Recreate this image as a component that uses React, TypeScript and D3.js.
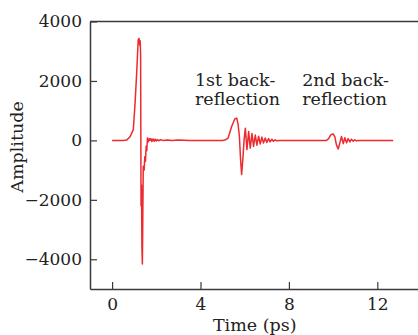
import * as d3 from "d3";
import { useRef, useEffect } from "react";

// time (ps) and amplitude
const times = [
  0, 0.5, 0.66, 0.81, 0.96, 1.04, 1.12, 1.18, 1.22, 1.25, 1.27, 1.29, 1.31, 1.33, 1.35, 1.37, 1.39, 1.41,
  1.45, 1.48, 1.51, 1.54, 1.57, 1.6, 1.64, 1.68, 1.72, 1.76, 1.8, 1.85, 1.9, 1.95, 2.0, 2.05, 2.1, 2.2,
  2.3, 2.5, 2.7, 3.0, 3.5, 5.0, 5.1, 5.25, 5.41, 5.55, 5.64, 5.7, 5.76, 5.81, 5.86, 5.92, 5.97,
  6.03, 6.1, 6.18, 6.25, 6.33, 6.4, 6.48, 6.55, 6.63, 6.7, 6.78, 6.85, 6.93, 7.0, 7.08, 7.15, 7.23,
  7.3, 7.38, 7.45, 7.6, 9.7, 9.8, 9.9, 10.0, 10.08, 10.15, 10.23, 10.3, 10.38, 10.46, 10.53, 10.61,
  10.68, 10.76, 10.83, 10.91, 10.98, 11.06, 11.2, 12.72,
];
const amplitude = [
  0, 0, 10, 120, 360, 1260, 2380, 3380, 3430, 3200, 3350, 2900, -2200, -1500, -3600, -4160, -2500, -870,
  -1000, -550, -700, -200, -350, 80, -50, 60, 0, 60, -40, 50, -30, 40, -20, 30, -10, 20,
  0, 15, 0, 10, 0, 0, 10, 80, 470, 720, 750, 550, 130, -600, -1150, -600, 0,
  410, -310, 300, -260, 230, -200, 180, -160, 140, -120, 110, -90, 80, -70, 60, -50, 40,
  -30, 20, -15, 0, 0, 60, 190, 220, 120, -150, -290, -100, 130, -110, 90, -80,
  60, -50, 40, -30, 20, -15, 0, 0,
];

const xTicks = [0, 4, 8, 12];
const yTicks = [-4000, -2000, 0, 2000, 4000];

const labels = [
  { lines: ["1st back-", "reflection"], t: 3.75 },
  { lines: ["2nd back-", "reflection"], t: 8.6 },
];

export default function App() {
  const svgRef = useRef<SVGSVGElement | null>(null);
  const width = 418;
  const height = 335;

  useEffect(() => {
    if (!svgRef.current) return;
    const svg = d3.select(svgRef.current);
    svg.selectAll("*").remove();

    const x = d3.scaleLinear().domain([-1, 14]).range([90, 90 + 15 * 22.1]);
    const y = d3.scaleLinear().domain([-5000, 4000]).range([289, 21.5]);
    const font = "DejaVu Serif";
    const axisColor = "#3a3a3a";

    // x axis (inward ticks)
    const gx = svg.append("g")
      .attr("transform", `translate(0,${y(-5000)})`)
      .call(d3.axisBottom(x).tickValues(xTicks).tickFormat(d3.format("d"))
        .tickSizeInner(-7).tickSizeOuter(0).tickPadding(8.5));
    gx.select(".domain").attr("stroke", axisColor).attr("stroke-width", 1.5);
    gx.selectAll(".tick line").attr("stroke", axisColor).attr("stroke-width", 1.2);
    gx.selectAll("text").attr("font-family", font).attr("font-size", 17).attr("fill", "#222");

    // y axis
    const gy = svg.append("g")
      .attr("transform", `translate(${x(-1)},0)`)
      .call(d3.axisLeft(y).tickValues(yTicks).tickFormat(d => d3.format("d")(d as number).replace("-", "\u2212"))
        .tickSizeInner(-7).tickSizeOuter(0).tickPadding(8));
    gy.select(".domain").attr("stroke", axisColor).attr("stroke-width", 1.5);
    gy.selectAll(".tick line").attr("stroke", axisColor).attr("stroke-width", 1.2);
    gy.selectAll("text").attr("font-family", font).attr("font-size", 17).attr("fill", "#222");

    // top frame line
    svg.append("line")
      .attr("x1", x(-1)).attr("x2", width)
      .attr("y1", y(4000)).attr("y2", y(4000))
      .attr("stroke", axisColor).attr("stroke-width", 1.5);

    // trace
    const line = d3.line<number>()
      .x((_, i) => x(times[i]))
      .y(d => y(d));
    svg.append("path")
      .datum(amplitude)
      .attr("d", line)
      .attr("fill", "none")
      .attr("stroke", "#ee2a2e")
      .attr("stroke-width", 1.5)
      .attr("stroke-linejoin", "round");

    // annotations
    labels.forEach(l => {
      const t = svg.append("text")
        .attr("font-family", font).attr("font-size", 17.5).attr("fill", "#222");
      l.lines.forEach((s, i) => {
        t.append("tspan").attr("x", x(l.t)).attr("y", 86 + i * 18.5).text(s);
      });
    });

    // axis titles
    svg.append("text")
      .attr("x", (x(-1) + x(14)) / 2 - 1).attr("y", 331)
      .attr("text-anchor", "middle")
      .attr("font-family", font).attr("font-size", 17.5).attr("fill", "#222")
      .text("Time (ps)");
    svg.append("text")
      .attr("transform", `translate(23,147) rotate(-90)`)
      .attr("text-anchor", "middle")
      .attr("font-family", font).attr("font-size", 17.5).attr("fill", "#222")
      .text("Amplitude");
  }, []);

  return (
    <svg ref={svgRef} width={width} height={height}
      style={{ position: "absolute", left: 0, top: 0, background: "#fff" }} />
  );
}
